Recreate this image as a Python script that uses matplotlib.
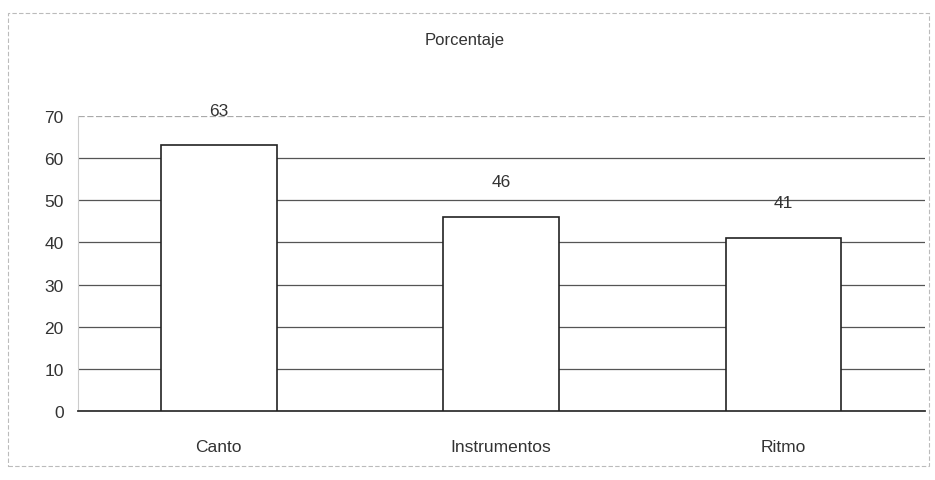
import matplotlib
matplotlib.use("Agg")
import matplotlib.pyplot as plt
from matplotlib.patches import Rectangle

plt.rcParams['font.family'] = ['Liberation Sans', 'DejaVu Sans']

# Data
categories = ["Canto", "Instrumentos", "Ritmo"]
porcentaje = [63, 46, 41]
y_ticks = [0, 10, 20, 30, 40, 50, 60, 70]

fig = plt.figure(figsize=(9.35, 4.81), dpi=100)
ax = fig.add_axes([0.083, 0.1435, 0.906, 0.6135])

# outer chart frame (scanned, faint)
fig.patches.append(Rectangle((0.009, 0.03), 0.985, 0.94, transform=fig.transFigure,
                             fill=False, edgecolor="#bbbbbb", linewidth=0.8,
                             linestyle=(0, (4, 2))))

x = range(len(categories))
ax.bar(x, porcentaje, width=0.41, color="white", edgecolor="#222222",
       linewidth=1.2, zorder=3)

for xi, v in zip(x, porcentaje):
    ax.annotate(str(v), (xi, v), xytext=(0, 20), textcoords="offset points",
                ha="center", va="bottom", fontsize=12.5, color="#333333")

ax.set_xlim(-0.5, len(categories) - 0.5)
ax.set_ylim(0, 70)
ax.set_yticks(y_ticks)
ax.set_xticks(list(x))
ax.set_xticklabels(categories)
ax.tick_params(axis="both", labelsize=12.5, colors="#333333", length=0)
ax.tick_params(axis="x", pad=20)
ax.tick_params(axis="y", pad=10)

ax.yaxis.grid(True, color="#555555", linewidth=0.9, zorder=0)
ax.get_ygridlines()[-1].set_color("#aaaaaa")
ax.get_ygridlines()[-1].set_linestyle((0, (5, 2)))
ax.set_axisbelow(True)
for side in ["top", "right"]:
    ax.spines[side].set_visible(False)
ax.spines["left"].set_color("#cccccc")
ax.spines["left"].set_linewidth(0.8)
ax.spines["bottom"].set_color("#333333")
ax.spines["bottom"].set_linewidth(1.3)

fig.text(0.497, 0.915, "Porcentaje", ha="center", va="center",
         fontsize=12, color="#333333")

fig.savefig("out.png", dpi=100, facecolor="white")
